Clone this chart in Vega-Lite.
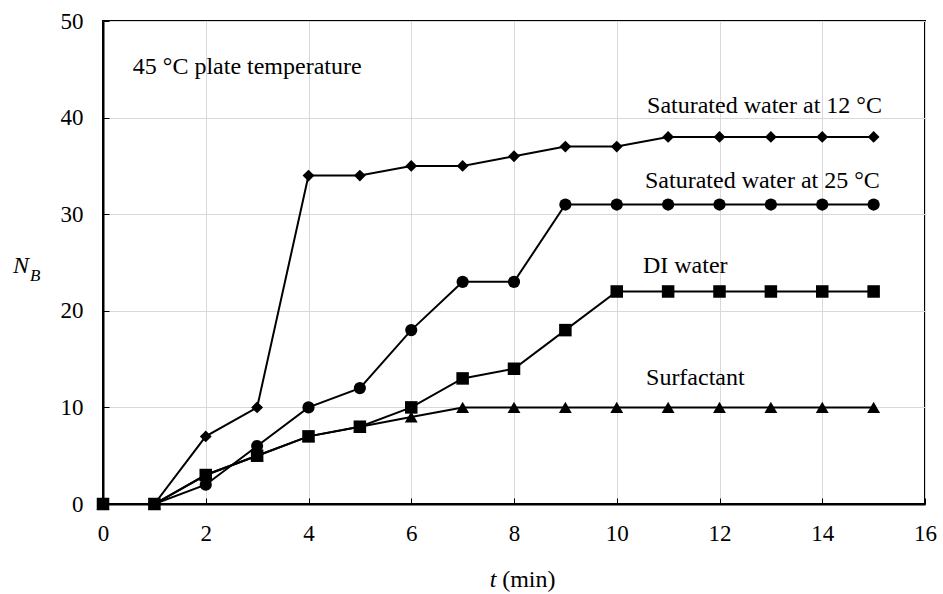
{
  "$schema": "https://vega.github.io/schema/vega-lite/v6.json",
  "width": 822,
  "height": 483,
  "autosize": {"type": "none"},
  "padding": {"left": 103, "top": 21, "right": 18, "bottom": 90},
  "background": "white",
  "config": {
    "font": "'Liberation Serif', 'DejaVu Serif', serif",
    "view": {"stroke": "black", "strokeWidth": 2},
    "axis": {
      "grid": true,
      "gridColor": "#d9d9d9",
      "gridWidth": 1,
      "domainColor": "black",
      "domainWidth": 2,
      "tickColor": "black",
      "tickWidth": 1,
      "tickSize": -6,
      "labelFlush": false,
      "labelOverlap": false,
      "labelFontSize": 23,
      "labelColor": "black",
      "labelFont": "'Liberation Serif', 'DejaVu Serif', serif",
      "title": null
    },
    "text": {"font": "'Liberation Serif', 'DejaVu Serif', serif"}
  },
  "datasets": {
    "series": [
      {"series": "Saturated water at 12 °C", "t": 0, "n": 0},
      {"series": "Saturated water at 12 °C", "t": 1, "n": 0},
      {"series": "Saturated water at 12 °C", "t": 2, "n": 7},
      {"series": "Saturated water at 12 °C", "t": 3, "n": 10},
      {"series": "Saturated water at 12 °C", "t": 4, "n": 34},
      {"series": "Saturated water at 12 °C", "t": 5, "n": 34},
      {"series": "Saturated water at 12 °C", "t": 6, "n": 35},
      {"series": "Saturated water at 12 °C", "t": 7, "n": 35},
      {"series": "Saturated water at 12 °C", "t": 8, "n": 36},
      {"series": "Saturated water at 12 °C", "t": 9, "n": 37},
      {"series": "Saturated water at 12 °C", "t": 10, "n": 37},
      {"series": "Saturated water at 12 °C", "t": 11, "n": 38},
      {"series": "Saturated water at 12 °C", "t": 12, "n": 38},
      {"series": "Saturated water at 12 °C", "t": 13, "n": 38},
      {"series": "Saturated water at 12 °C", "t": 14, "n": 38},
      {"series": "Saturated water at 12 °C", "t": 15, "n": 38},
      {"series": "Saturated water at 25 °C", "t": 0, "n": 0},
      {"series": "Saturated water at 25 °C", "t": 1, "n": 0},
      {"series": "Saturated water at 25 °C", "t": 2, "n": 2},
      {"series": "Saturated water at 25 °C", "t": 3, "n": 6},
      {"series": "Saturated water at 25 °C", "t": 4, "n": 10},
      {"series": "Saturated water at 25 °C", "t": 5, "n": 12},
      {"series": "Saturated water at 25 °C", "t": 6, "n": 18},
      {"series": "Saturated water at 25 °C", "t": 7, "n": 23},
      {"series": "Saturated water at 25 °C", "t": 8, "n": 23},
      {"series": "Saturated water at 25 °C", "t": 9, "n": 31},
      {"series": "Saturated water at 25 °C", "t": 10, "n": 31},
      {"series": "Saturated water at 25 °C", "t": 11, "n": 31},
      {"series": "Saturated water at 25 °C", "t": 12, "n": 31},
      {"series": "Saturated water at 25 °C", "t": 13, "n": 31},
      {"series": "Saturated water at 25 °C", "t": 14, "n": 31},
      {"series": "Saturated water at 25 °C", "t": 15, "n": 31},
      {"series": "DI water", "t": 0, "n": 0},
      {"series": "DI water", "t": 1, "n": 0},
      {"series": "DI water", "t": 2, "n": 3},
      {"series": "DI water", "t": 3, "n": 5},
      {"series": "DI water", "t": 4, "n": 7},
      {"series": "DI water", "t": 5, "n": 8},
      {"series": "DI water", "t": 6, "n": 10},
      {"series": "DI water", "t": 7, "n": 13},
      {"series": "DI water", "t": 8, "n": 14},
      {"series": "DI water", "t": 9, "n": 18},
      {"series": "DI water", "t": 10, "n": 22},
      {"series": "DI water", "t": 11, "n": 22},
      {"series": "DI water", "t": 12, "n": 22},
      {"series": "DI water", "t": 13, "n": 22},
      {"series": "DI water", "t": 14, "n": 22},
      {"series": "DI water", "t": 15, "n": 22},
      {"series": "Surfactant", "t": 0, "n": 0},
      {"series": "Surfactant", "t": 1, "n": 0},
      {"series": "Surfactant", "t": 2, "n": 3},
      {"series": "Surfactant", "t": 3, "n": 5},
      {"series": "Surfactant", "t": 4, "n": 7},
      {"series": "Surfactant", "t": 5, "n": 8},
      {"series": "Surfactant", "t": 6, "n": 9},
      {"series": "Surfactant", "t": 7, "n": 10},
      {"series": "Surfactant", "t": 8, "n": 10},
      {"series": "Surfactant", "t": 9, "n": 10},
      {"series": "Surfactant", "t": 10, "n": 10},
      {"series": "Surfactant", "t": 11, "n": 10},
      {"series": "Surfactant", "t": 12, "n": 10},
      {"series": "Surfactant", "t": 13, "n": 10},
      {"series": "Surfactant", "t": 14, "n": 10},
      {"series": "Surfactant", "t": 15, "n": 10}
    ],
    "labels": [
      {"label": "Saturated water at 12 °C", "t": 10.59, "n": 40.5},
      {"label": "Saturated water at 25 °C", "t": 10.55, "n": 32.7},
      {"label": "DI water", "t": 10.51, "n": 23.9},
      {"label": "Surfactant", "t": 10.57, "n": 12.3},
      {"label": "45 °C plate temperature", "t": 0.58, "n": 44.5},
      {"label": "(min)", "t": 7.77, "n": -8.6}
    ],
    "italicBig": [
      {"label": "N", "t": -1.75, "n": 23.9},
      {"label": "t", "t": 7.53, "n": -8.6}
    ],
    "italicSmall": [
      {"label": "B", "t": -1.42, "n": 23.1}
    ]
  },
  "layer": [
    {
      "data": {"name": "series"},
      "mark": {"type": "line", "color": "black", "strokeWidth": 2},
      "encoding": {
        "x": {"field": "t", "type": "quantitative", "scale": {"domain": [0, 16], "nice": false},
              "axis": {"values": [0, 2, 4, 6, 8, 10, 12, 14, 16], "labelPadding": 24}},
        "y": {"field": "n", "type": "quantitative", "scale": {"domain": [0, 50], "nice": false},
              "axis": {"values": [0, 10, 20, 30, 40, 50], "labelPadding": 26}},
        "detail": {"field": "series"}
      }
    },
    {
      "data": {"name": "series"},
      "mark": {"type": "point", "filled": true, "color": "black", "opacity": 1},
      "encoding": {
        "x": {"field": "t", "type": "quantitative"},
        "y": {"field": "n", "type": "quantitative"},
        "shape": {"field": "series", "type": "nominal", "legend": null,
                  "scale": {"domain": ["Saturated water at 12 °C", "Saturated water at 25 °C", "DI water", "Surfactant"],
                            "range": ["diamond", "circle", "square", "triangle-up"]}},
        "size": {"field": "series", "type": "nominal", "legend": null,
                 "scale": {"domain": ["Saturated water at 12 °C", "Saturated water at 25 °C", "DI water", "Surfactant"],
                           "range": [140, 165, 165, 150]}}
      }
    },
    {
      "data": {"name": "labels"},
      "mark": {"type": "text", "align": "left", "baseline": "alphabetic", "fontSize": 24, "color": "black"},
      "encoding": {
        "x": {"field": "t", "type": "quantitative"},
        "y": {"field": "n", "type": "quantitative"},
        "text": {"field": "label"}
      }
    },
    {
      "data": {"name": "italicBig"},
      "mark": {"type": "text", "align": "left", "baseline": "alphabetic", "fontSize": 24, "fontStyle": "italic", "color": "black"},
      "encoding": {
        "x": {"field": "t", "type": "quantitative"},
        "y": {"field": "n", "type": "quantitative"},
        "text": {"field": "label"}
      }
    },
    {
      "data": {"name": "italicSmall"},
      "mark": {"type": "text", "align": "left", "baseline": "alphabetic", "fontSize": 17, "fontStyle": "italic", "color": "black"},
      "encoding": {
        "x": {"field": "t", "type": "quantitative"},
        "y": {"field": "n", "type": "quantitative"},
        "text": {"field": "label"}
      }
    }
  ]
}
